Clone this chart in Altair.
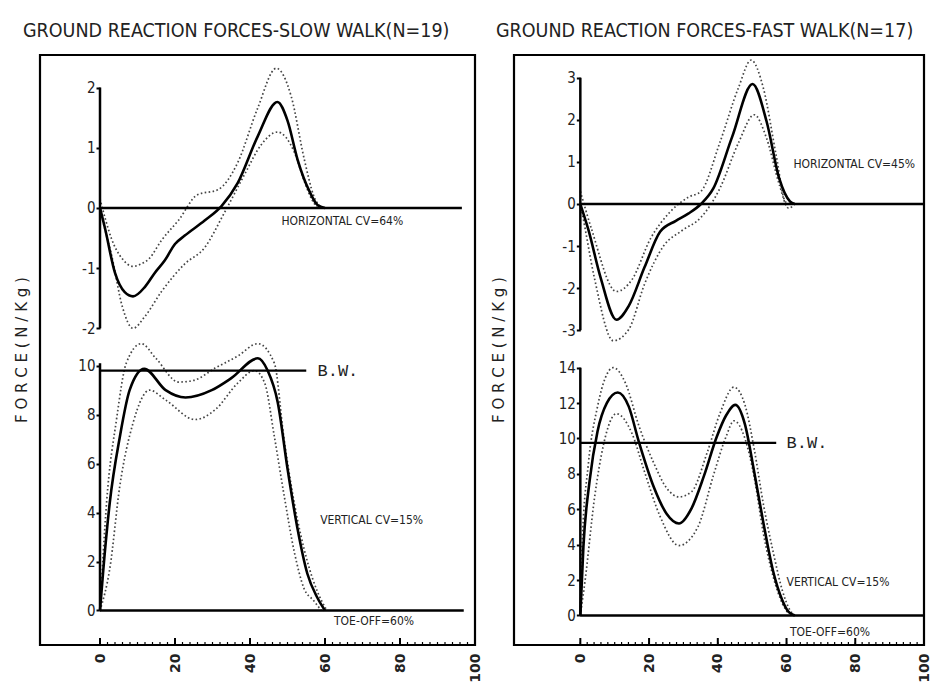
import altair as alt
import pandas as pd

# ---------------- text ----------------
TITLE_SLOW = "GROUND REACTION FORCES-SLOW WALK(N=19)"
TITLE_FAST = "GROUND REACTION FORCES-FAST WALK(N=17)"
Y_TITLE = "F O R C E  ( N / K g )"

# ---------------- ticks ----------------
x_ticks = [0, 20, 40, 60, 80, 100]
minor_ticks = list(range(0, 101, 2))
slow_h_ticks = [-2, -1, 0, 1, 2]
slow_v_ticks = [0, 2, 4, 6, 8, 10]
fast_h_ticks = [-3, -2, -1, 0, 1, 2, 3]
fast_v_ticks = [0, 2, 4, 6, 8, 10, 12, 14]

# ---------------- SLOW WALK : horizontal ----------------
slow_h_mean_x = [0, 1.3, 4, 6.6, 8.8, 12, 14.6, 17.3, 20, 22.6, 27.9, 32.4, 36.7, 42, 47.3, 50, 52.7, 55.9, 58, 60]
slow_h_mean_y = [0, -0.33, -1.08, -1.4, -1.47, -1.31, -1.08, -0.87, -0.6, -0.46, -0.21, 0.03, 0.41, 1.18, 1.76, 1.45, 0.8, 0.27, 0.05, 0]
slow_h_up_x = [0, 1.5, 3, 6, 8.8, 11, 13, 16.5, 21, 26, 31.4, 36.7, 42, 47, 51, 54.5, 57, 59]
slow_h_up_y = [0.15, -0.2, -0.5, -0.85, -0.97, -0.93, -0.85, -0.53, -0.2, 0.22, 0.3, 0.75, 1.65, 2.32, 1.85, 0.8, 0.2, 0]
slow_h_lo_x = [0, 1.5, 3, 6, 8.8, 12, 16.5, 22.6, 27.9, 33, 38.5, 43, 47.3, 51.8, 54.5, 56.4, 58]
slow_h_lo_y = [0, -0.4, -0.76, -1.65, -2.0, -1.8, -1.38, -0.93, -0.66, -0.1, 0.55, 1.05, 1.26, 0.93, 0.44, 0.15, 0]

# ---------------- SLOW WALK : vertical ----------------
slow_v_mean_x = [0, 0.9, 2.6, 5.3, 7.9, 11.8, 17.5, 22.8, 29.8, 35.1, 42.1, 44.7, 47.4, 50, 52.6, 55.3, 57.9, 60]
slow_v_mean_y = [0, 1.7, 4.4, 7.1, 9.0, 9.87, 9.0, 8.7, 9.0, 9.5, 10.3, 9.8, 8.5, 5.8, 3.4, 1.5, 0.54, 0]
slow_v_up_x = [0, 1.75, 4.4, 7, 11, 14.9, 21, 25, 30.7, 36.8, 42.1, 46.5, 49, 51.8, 55.3, 57.9, 60.5]
slow_v_up_y = [0, 4.4, 7.8, 10.1, 10.9, 10.3, 9.33, 9.4, 9.9, 10.4, 10.9, 10.1, 7.1, 4.4, 2.0, 0.8, 0]
slow_v_lo_x = [0, 2.6, 5.3, 8.8, 13.2, 17.5, 25.4, 30.7, 36.8, 41.2, 43.9, 46.5, 49.1, 51.8, 54.4, 57, 59]
slow_v_lo_y = [0, 1.7, 5.1, 7.65, 9.0, 8.6, 7.8, 8.2, 9.3, 9.8, 9.3, 7.1, 4.7, 2.4, 0.9, 0.4, 0]

# ---------------- FAST WALK : horizontal ----------------
fast_h_mean_x = [0, 2.3, 5.9, 10.5, 14.1, 18.7, 23.2, 27.8, 31.4, 35.1, 38.7, 44.2, 50.1, 54.2, 57.9, 61, 62.4]
fast_h_mean_y = [0, -0.6, -1.75, -2.75, -2.42, -1.5, -0.66, -0.4, -0.23, 0, 0.37, 1.6, 2.85, 1.96, 0.6, 0.06, 0]
fast_h_up_x = [0, 3.2, 10.5, 15, 20.5, 26, 31.4, 35.1, 40.6, 46, 49.7, 53.3, 57, 59.7, 61.5]
fast_h_up_y = [0.3, -0.58, -2.08, -1.8, -0.81, -0.2, 0.16, 0.3, 1.46, 2.76, 3.42, 2.74, 1.15, 0.05, 0]
fast_h_lo_x = [0, 0.5, 4.1, 9.6, 14.1, 18.7, 24.2, 29.6, 35.1, 40.6, 46, 50.6, 54.2, 57.9, 60.6, 62.4]
fast_h_lo_y = [0, -0.2, -1.76, -3.25, -2.98, -1.9, -1.0, -0.63, -0.32, 0.37, 1.45, 2.12, 1.56, 0.46, -0.1, 0]

# ---------------- FAST WALK : vertical ----------------
fast_v_mean_x = [0, 0.9, 2.7, 5, 7.7, 10.9, 14.1, 16.9, 21.4, 25.1, 28.7, 32.4, 36, 39.7, 42.4, 45.1, 47.9, 50.6, 53.3, 56.1, 58.8, 60.6, 62.4]
fast_v_mean_y = [0, 3.9, 7.6, 10.4, 12.0, 12.6, 11.8, 9.9, 7.25, 5.75, 5.2, 6.07, 7.9, 10.1, 11.3, 11.9, 10.8, 8.1, 5.2, 2.5, 0.85, 0.2, 0]
fast_v_up_x = [0, 0.5, 2.3, 5, 9.6, 13.2, 16.9, 21.4, 25.1, 28.7, 32.4, 36.9, 40.6, 44.7, 47.9, 50.6, 53.3, 56.1, 58.8, 61, 62.5]
fast_v_up_y = [0, 3.9, 8.5, 11.8, 14.0, 13.1, 10.8, 8.6, 7.2, 6.7, 7.0, 9.2, 11.4, 12.9, 11.9, 9.4, 6.25, 3.6, 1.4, 0.3, 0]
fast_v_lo_x = [0, 1.4, 4.1, 6.8, 10.5, 15, 18.7, 23.2, 28.7, 34.2, 38.7, 42.4, 44.7, 47.9, 50.6, 53.3, 56.1, 58.8, 60.6]
fast_v_lo_y = [0, 2.0, 6.6, 9.7, 11.4, 10.3, 8.1, 5.6, 3.95, 5.0, 7.9, 10.1, 11.0, 10.0, 7.8, 4.6, 2.2, 0.67, 0.1]

# ---------------- annotations ----------------
slow_bw = 9.8
fast_bw = 9.75
slow_h_label = ["HORIZONTAL CV=64%"]
slow_v_labels = ["VERTICAL CV=15%", "TOE-OFF=60%"]
fast_h_label = ["HORIZONTAL  CV=45%"]
fast_v_labels = ["VERTICAL  CV=15%", "TOE-OFF=60%"]

COND = "Liberation Sans Narrow, DejaVu Sans Condensed, Roboto, sans-serif"
MONO = "Liberation Mono, DejaVu Sans Mono, monospace"
SANS = "DejaVu Sans, Noto Sans, sans-serif"


def line_df(xs, ys, band):
    return pd.DataFrame({"pct": xs, "force": ys, "band": band})


def build_panel(cfg):
    W, H = cfg["W"], cfg["H"]
    xdom = cfg["xdom"]
    x0px = (0 - xdom[0]) / (xdom[1] - xdom[0]) * W
    xscale = alt.Scale(domain=xdom, nice=False, zero=False)
    xaxis = alt.Axis(values=x_ticks, labelAngle=270, ticks=False, domain=False, grid=False,
                     labelFont=SANS, labelFontSize=14, labelFontWeight="bold", labelPadding=8,
                     labelAlign="right", labelBaseline="middle", labelColor="#222", labelFlush=False,
                     labelOverlap=False, title=None)

    def X(field):
        return alt.X(field, scale=xscale, axis=xaxis, title=None)

    layers = []
    for sub in ("top", "bot"):
        s = cfg[sub]
        yscale = alt.Scale(domain=s["ydom"], nice=False, zero=False)
        yaxis = alt.Axis(values=s["ticks"], orient="left", offset=-x0px, domain=False, grid=False,
                         tickSize=4, tickWidth=2, tickColor="black", labelFont=COND, labelFontSize=15,
                         labelPadding=1, labelColor="#222", labelExpr="'' + datum.value", title=None)

        def Y(field):
            return alt.Y(field, scale=yscale, axis=yaxis, title=None)

        sd = pd.concat([line_df(s["up_x"], s["up_y"], "+SD"), line_df(s["lo_x"], s["lo_y"], "-SD")])
        mean = line_df(s["mean_x"], s["mean_y"], "mean")
        l_sd = alt.Chart(sd).mark_line(strokeDash=[1.6, 2.4], strokeWidth=1.7, color="#444",
                                       interpolate="monotone").encode(
            x=X("pct:Q"), y=Y("force:Q"), detail="band:N")
        l_mean = alt.Chart(mean).mark_line(strokeWidth=2.6, color="black",
                                           interpolate="monotone").encode(
            x=X("pct:Q"), y=Y("force:Q"))
        yline = alt.Chart(pd.DataFrame({"pct": [0], "lo": [min(s["ticks"])], "hi": [s["axis_top"]]})
                          ).mark_rule(strokeWidth=2.5, color="black").encode(
            x=X("pct:Q"), y=Y("lo:Q"), y2="hi:Q")
        zline = alt.Chart(pd.DataFrame({"a": [0], "b": [s["zero_end"]], "force": [0]})
                          ).mark_rule(strokeWidth=2.5, color="black").encode(
            x=X("a:Q"), x2="b:Q", y=Y("force:Q"))
        lab = alt.Chart(pd.DataFrame({"pct": s["lab_x"], "force": s["lab_y"], "t": s["labels"]})
                        ).mark_text(align="left", baseline="middle", font=COND, fontSize=12,
                                    color="#222").encode(
            x=X("pct:Q"), y=Y("force:Q"), text="t:N")
        parts = [l_sd, l_mean, yline, zline, lab]
        if "bw" in s:
            bw = alt.Chart(pd.DataFrame({"a": [0], "b": [s["bw_end"]], "force": [s["bw"]]})
                           ).mark_rule(strokeWidth=2.2, color="black").encode(
                x=X("a:Q"), x2="b:Q", y=Y("force:Q"))
            bwt = alt.Chart(pd.DataFrame({"pct": [s["bw_end"] + 3], "force": [s["bw"]], "t": ["B.W."]})
                            ).mark_text(align="left", baseline="middle", font=MONO, fontSize=17,
                                        color="#222").encode(
                x=X("pct:Q"), y=Y("force:Q"), text="t:N")
            parts += [bw, bwt]
        layers.append(alt.layer(*parts))

    ticks_major = alt.Chart(pd.DataFrame({"pct": x_ticks})).mark_rule(strokeWidth=2, color="black").encode(
        x=X("pct:Q"), y=alt.value(H), y2=alt.value(H - 7))
    ticks_minor = alt.Chart(pd.DataFrame({"pct": minor_ticks})).mark_rule(strokeWidth=1.2, color="black").encode(
        x=X("pct:Q"), y=alt.value(H), y2=alt.value(H - 3))
    ytitle = alt.Chart(pd.DataFrame({"t": [Y_TITLE]})).mark_text(
        angle=270, font=SANS, fontSize=15, color="#222", baseline="middle", align="center").encode(
        x=alt.value(cfg["ytitle_dx"]), y=alt.value(H / 2), text="t:N")

    return alt.layer(layers[0], layers[1], ticks_major, ticks_minor, ytitle).resolve_scale(
        y="independent").properties(
        width=W, height=H,
        view=alt.ViewBackground(stroke="black", strokeWidth=2.2, fill="white"),
        title=alt.TitleParams(cfg["title"], anchor="start", font=COND, fontSize=19.5,
                              fontWeight="normal", color="#222", offset=14, dx=cfg["title_dx"]))


H = 590
slow_cfg = {
    "W": 435, "H": H, "xdom": [-16, 100], "title": TITLE_SLOW, "ytitle_dx": -18, "title_dx": 8,
    "top": {"ydom": [-7.26, 2.54], "ticks": slow_h_ticks, "axis_top": 2, "zero_end": 96.5,
            "mean_x": slow_h_mean_x, "mean_y": slow_h_mean_y, "up_x": slow_h_up_x, "up_y": slow_h_up_y,
            "lo_x": slow_h_lo_x, "lo_y": slow_h_lo_y,
            "lab_x": [48.4], "lab_y": [-0.22], "labels": slow_h_label},
    "bot": {"ydom": [-1.41, 22.69], "ticks": slow_v_ticks, "axis_top": 10.1, "zero_end": 97,
            "mean_x": slow_v_mean_x, "mean_y": slow_v_mean_y, "up_x": slow_v_up_x, "up_y": slow_v_up_y,
            "lo_x": slow_v_lo_x, "lo_y": slow_v_lo_y,
            "lab_x": [58.7, 62.4], "lab_y": [3.7, -0.45], "labels": slow_v_labels,
            "bw": slow_bw, "bw_end": 55},
}
fast_cfg = {
    "W": 410, "H": H, "xdom": [-19.3, 100], "title": TITLE_FAST, "ytitle_dx": -15, "title_dx": 4,
    "top": {"ydom": [-10.48, 3.54], "ticks": fast_h_ticks, "axis_top": 3, "zero_end": 100,
            "mean_x": fast_h_mean_x, "mean_y": fast_h_mean_y, "up_x": fast_h_up_x, "up_y": fast_h_up_y,
            "lo_x": fast_h_lo_x, "lo_y": fast_h_lo_y,
            "lab_x": [62], "lab_y": [0.95], "labels": fast_h_label},
    "bot": {"ydom": [-1.67, 31.67], "ticks": fast_v_ticks, "axis_top": 14, "zero_end": 100,
            "mean_x": fast_v_mean_x, "mean_y": fast_v_mean_y, "up_x": fast_v_up_x, "up_y": fast_v_up_y,
            "lo_x": fast_v_lo_x, "lo_y": fast_v_lo_y,
            "lab_x": [60, 61], "lab_y": [1.9, -0.93], "labels": fast_v_labels,
            "bw": fast_bw, "bw_end": 57},
}

chart = alt.hconcat(build_panel(slow_cfg), build_panel(fast_cfg), spacing=39, bounds="flush").configure(
    background="white", padding={"left": 5, "right": 2, "top": 11, "bottom": 2}).configure_view(
    stroke="black", strokeWidth=2.2)

chart.save("out.html", embed_options={"renderer": "svg", "actions": False})
